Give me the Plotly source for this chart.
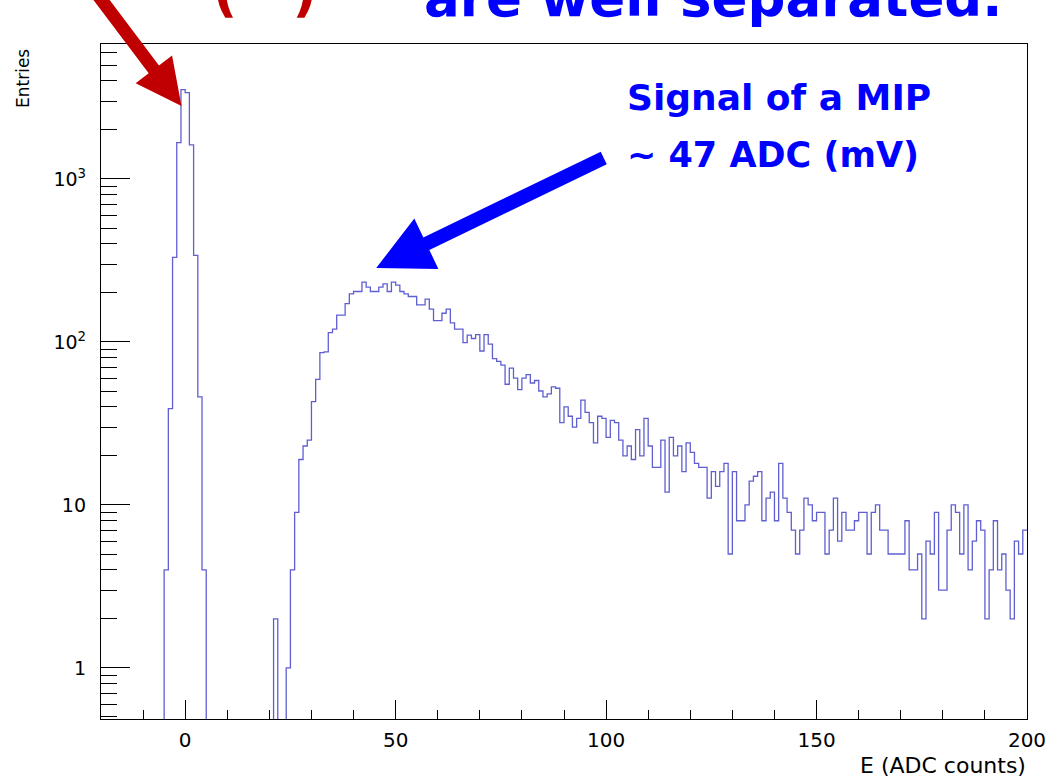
import numpy as np
import plotly.graph_objects as go

# ---------------- data ----------------
bin_low = -20
bin_width = 1
counts = (
    [0] * 15 +                                              # -20 .. -6
    [4, 39, 330, 1670, 3530, 3390, 1620, 340, 46, 4] +      # -5 .. 4 (pedestal)
    [0] * 16 +                                              # 5 .. 20
    [2, 0, 0] +                                             # 21 .. 23
    [1, 4, 9, 19, 23, 25, 43, 59, 86, 87,                   # 24 .. 33
     114, 120, 146, 146, 172, 197, 204, 204, 233, 217,      # 34 .. 43
     204, 204, 217, 227, 204, 233, 223, 204, 197, 190,      # 44 .. 53
     190, 169, 169, 183, 159, 135, 135, 150, 159, 131,      # 54 .. 63
     120, 120, 99, 110, 105, 111, 88, 111, 97, 79,          # 64 .. 73
     76, 72, 55, 69, 60, 51, 60, 63, 56, 58,                # 74 .. 83
     50, 46, 48, 53, 52, 32, 40, 35, 30, 34,                # 84 .. 93
     44, 37, 32, 24, 35, 34, 26, 33, 32, 25,                # 94 .. 103
     20, 23, 19, 29, 20, 34, 23, 17, 17, 25,                # 104 .. 113
     12, 26, 20, 23, 16, 24, 21, 18, 17, 17,                # 114 .. 123
     11, 16, 13, 16, 18, 5, 16, 8, 8, 10,                   # 124 .. 133
     14, 15, 16, 8, 11, 12, 8, 18, 11, 9,                   # 134 .. 143
     7, 5, 7, 11, 10, 8, 9, 9, 5, 7,                        # 144 .. 153
     11, 6, 9, 7, 7, 8, 9, 9, 5, 9,                         # 154 .. 163
     10, 7, 7, 5, 5, 5, 5, 8, 4, 4,                         # 164 .. 173
     5, 2, 6, 5, 9, 3, 3, 7, 10, 9,                         # 174 .. 183
     5, 10, 4, 6, 8, 7, 2, 4, 8, 4,                         # 184 .. 193
     5, 3, 2, 6, 5, 7]                                      # 194 .. 199
)
x_ticks = [0, 50, 100, 150, 200]
y_ticks = [1, 10, 100, 1000]
y_tick_text = ["1", "10", "10<sup>2</sup>", "10<sup>3</sup>"]

# ---------------- geometry helpers (pixel -> paper) ----------------
W, H = 1058, 779
L, R, T, B = 101, 1033, 44, 719


def px(x):
    return (x - L) / (R - L)


def py(y):
    return (B - y) / (B - T)


def arrow_path(tail, tip, shaft_w, head_w, head_len):
    tx, ty = tail
    hx, hy = tip
    d = np.hypot(hx - tx, hy - ty)
    ux, uy = (hx - tx) / d, (hy - ty) / d
    nx, ny = -uy, ux
    bx, by = hx - ux * head_len, hy - uy * head_len
    pts = [
        (tx + nx * shaft_w / 2, ty + ny * shaft_w / 2),
        (bx + nx * shaft_w / 2, by + ny * shaft_w / 2),
        (bx + nx * head_w / 2, by + ny * head_w / 2),
        (hx, hy),
        (bx - nx * head_w / 2, by - ny * head_w / 2),
        (bx - nx * shaft_w / 2, by - ny * shaft_w / 2),
        (tx - nx * shaft_w / 2, ty - ny * shaft_w / 2),
    ]
    return "M " + " L ".join(f"{px(a):.5f},{py(b):.5f}" for a, b in pts) + " Z"


# ---------------- histogram ----------------
n = len(counts)
edges = bin_low + bin_width * np.arange(n + 1)
vals = np.array(counts, dtype=float)
vals_plot = np.where(vals > 0, vals, 1e-3)
xs = list(edges)
ys = list(vals_plot) + [vals_plot[-1]]

fig = go.Figure()
fig.add_trace(go.Scatter(
    x=xs, y=ys, mode="lines", line=dict(shape="hv", color="#5f5fd2", width=1.3),
    hoverinfo="skip", showlegend=False,
))

font_axis = "DejaVu Sans, Liberation Sans, Arial, sans-serif"

fig.update_xaxes(
    range=[-20, 200], tickvals=x_ticks, ticks="inside", ticklen=19, tickwidth=1.2,
    tickcolor="black", showline=True, linecolor="black", linewidth=1.3, mirror=True,
    showgrid=False, zeroline=False, ticklabelstandoff=3,
    tickfont=dict(family=font_axis, size=20, color="black"),
    minor=dict(dtick=10, tick0=0, ticks="inside", ticklen=9, tickcolor="black",
               tickwidth=1.2, showgrid=False),
)
minor_y = [m * 10 ** e for e in range(-1, 4) for m in range(2, 10)] + [0.5, 0.6, 0.7, 0.8, 0.9]
fig.update_yaxes(
    type="log", range=[np.log10(0.486), np.log10(6730)],
    tickvals=y_ticks, ticktext=y_tick_text, ticks="inside", ticklen=29, tickwidth=1.2,
    tickcolor="black", showline=True, linecolor="black", linewidth=1.3, mirror=True,
    showgrid=False, zeroline=False, ticklabelstandoff=10,
    tickfont=dict(family=font_axis, size=19, color="black"),
    minor=dict(tickvals=minor_y, ticks="inside", ticklen=16, tickcolor="black",
               tickwidth=1.2, showgrid=False),
)

fig.update_layout(
    width=W, height=H,
    margin=dict(l=L, r=W - R, t=T, b=H - B, pad=0),
    paper_bgcolor="white", plot_bgcolor="white",
)

ann_font = "DejaVu Sans, Open Sans, sans-serif"
annotations = [
    dict(text="E (ADC counts)", x=px(1034), y=py(765), xanchor="right", yanchor="middle",
         font=dict(family=font_axis, size=22, color="black")),
    dict(text="Entries", x=px(22), y=py(47), xanchor="center", yanchor="top", textangle=-90,
         font=dict(family=font_axis, size=17, color="black")),
    dict(text="<b>Signal of a MIP</b>", x=px(628), y=py(97), xanchor="left", yanchor="middle",
         font=dict(family=ann_font, size=36, color="#0000ff")),
    dict(text="<b>~ 47 ADC (mV)</b>", x=px(628), y=py(155), xanchor="left", yanchor="middle",
         font=dict(family=ann_font, size=35, color="#0000ff")),
    dict(text="<b>are well separated.</b>", x=px(424), y=py(30), xanchor="left", yanchor="bottom",
         font=dict(family=ann_font, size=53, color="#0000ff")),
    dict(text="<b>(&nbsp;&nbsp;&nbsp;)</b>", x=px(212), y=py(25), xanchor="left", yanchor="bottom",
         font=dict(family=ann_font, size=53, color="#c00000")),
]
for a in annotations:
    a.update(xref="paper", yref="paper", showarrow=False)
fig.update_layout(annotations=annotations)

shapes = [
    dict(type="path", path=arrow_path((97, -6), (182, 106), 13, 46, 46),
         fillcolor="#c00000", line=dict(width=0)),
    dict(type="path", path=arrow_path((607, 158), (378, 268), 14, 56, 56),
         fillcolor="#0000ff", line=dict(width=0)),
]
for s in shapes:
    s.update(xref="paper", yref="paper", layer="above")
fig.update_layout(shapes=shapes)

fig.write_html("out.html", config={"displayModeBar": False},
               post_script="document.body.style.margin='0px';")
